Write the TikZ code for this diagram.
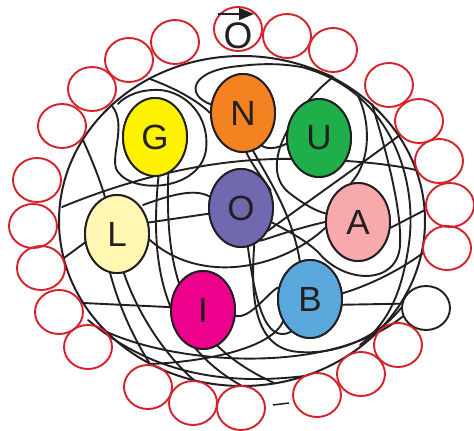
\documentclass[tikz,border=0pt]{standalone}
\usepackage{fontspec}
\setmainfont{Liberation Sans}
\usetikzlibrary{shapes.geometric,arrows.meta}
\definecolor{beadred}{RGB}{214,32,42}
\definecolor{ink}{RGB}{35,31,32}
\definecolor{cG}{RGB}{255,242,0}
\definecolor{cN}{RGB}{245,130,32}
\definecolor{cU}{RGB}{30,175,75}
\definecolor{cO}{RGB}{112,105,176}
\definecolor{cA}{RGB}{247,169,172}
\definecolor{cL}{RGB}{255,247,178}
\definecolor{cI}{RGB}{236,0,140}
\definecolor{cB}{RGB}{90,168,220}
\begin{document}
\begin{tikzpicture}[x=1pt,y=-1pt,
  wire/.style={draw=ink,line width=1.9pt,line cap=round},
  bead/.style={ellipse,draw=beadred,line width=1.9pt,minimum width=48pt,minimum height=44pt,inner sep=0pt},
  blackbead/.style={bead,draw=ink},
  ball/.style={ellipse,draw=ink,line width=1.9pt,minimum width=64pt,minimum height=78pt,inner sep=0pt,font=\fontsize{35}{35}\selectfont,text=ink}]
\useasboundingbox (0,0) rectangle (474,431);
% ring
\node[ellipse,draw=ink,line width=2pt,minimum width=366pt,minimum height=330pt,inner sep=0pt] (ring) at (242,221) {};
% balls (placed first for anchors, redrawn later)
\path
  (155,137) node[ball] (G) {}
  (243,113) node[ball] (N) {}
  (319,138) node[ball] (U) {}
  (241,208) node[ball] (O) {}
  (358,222) node[ball] (A) {}
  (117,234) node[ball] (L) {}
  (203,310) node[ball] (I) {}
  (310,299) node[ball] (B) {};
\node[blackbead] (bk) at (426,308) {};
% wires
\begin{scope}[wire]
\draw (62,207) .. controls (140,175) and (220,157) .. (300,159) .. controls (350,160) and (390,164) .. (416,170);
\draw (150,79) .. controls (180,90) and (200,103) .. (N.180);
\draw (83,140) .. controls (92,160) and (100,180) .. (L.108);
\draw (112,106) .. controls (128,125) and (108,160) .. (118,172) .. controls (135,195) and (200,190) .. (206,150) .. controls (210,115) and (185,92) .. (160,90) .. controls (140,89) and (125,96) .. (118,104);
\draw (N.165) .. controls (185,95) and (190,70) .. (240,66) .. controls (272,62) and (305,64) .. (333,77);
\draw (333,77) .. controls (292,110) and (255,170) .. (292,195) .. controls (305,205) and (318,212) .. (A.165);
\draw (358,96) .. controls (370,120) and (372,160) .. (A.100);
\draw (372,104) .. controls (386,150) and (402,210) .. (400,245) .. controls (398,285) and (345,285) .. (318,252) .. controls (305,240) and (290,232) .. (O.-25);
\draw (305,68) .. controls (390,92) and (420,180) .. (408,250) .. controls (400,300) and (385,325) .. (360,345);
\draw (400,135) .. controls (360,165) and (310,200) .. (O.-40);
\draw (N.-60) .. controls (268,150) and (278,148) .. (U.190);
\draw (N.-75) .. controls (272,185) and (292,215) .. (B.105);
\draw (N.-85) .. controls (255,170) and (268,185) .. (O.30);
\draw (64,258) -- (L.195);
\draw (83,303) -- (I.175);
\draw (107,332) .. controls (180,365) and (330,375) .. (bk.200);
\draw (L.-100) .. controls (120,310) and (135,340) .. (150,364);
\draw (L.-80) .. controls (140,320) and (170,360) .. (195,381);
\draw (G.-85) .. controls (150,260) and (160,340) .. (242,386);
\draw (G.-70) .. controls (165,270) and (180,340) .. (274,383);
\draw (L.-10) .. controls (200,285) and (280,270) .. (A.190);
\draw (143,205) .. controls (170,195) and (195,188) .. (O.160);
\draw (L.20) -- (O.190);
\draw (O.-80) .. controls (255,300) and (265,345) .. (B.-120);
\draw (O.-70) .. controls (250,300) and (255,350) .. (300,352) .. controls (340,355) and (380,335) .. (bk.180);
\draw (O.-60) .. controls (265,240) and (290,230) .. (A.180);
\draw (A.-10) -- (425,210);
\draw (B.10) .. controls (370,285) and (400,270) .. (423,253);
\draw (B.-10) -- (bk.170);
\draw (B.160) .. controls (270,290) and (250,320) .. (I.-10);
\draw (B.-140) .. controls (270,350) and (200,362) .. (150,364);
\draw (88,320) .. controls (150,372) and (220,386) .. (305,376);
\end{scope}
% balls on top
\foreach \n/\c/\t in {G/cG/G,N/cN/N,U/cU/U,O/cO/O,A/cA/A,L/cL/L,I/cI/I,B/cB/B}
  \node[ball,fill=\c] at (\n.center) {\t};
% red beads
\path
  (238,29) node[bead] (r0) {}
  (287,36) node[bead] (r1) {}
  (333,50) node[bead] (r2) {}
  (389,85) node[bead] (r3) {}
  (419,121) node[bead] (r4) {}
  (439,161) node[bead] (r5) {}
  (450,205) node[bead] (r6) {}
  (447,248) node[bead] (r7) {}
  (398,345) node[bead] (r8) {}
  (361,374) node[bead] (r9) {}
  (317,395) node[bead] (r10) {}
  (241,408) node[bead] (r11) {}
  (193,403) node[bead] (r12) {}
  (148,387) node[bead] (r13) {}
  (88,347) node[bead] (r14) {}
  (59,312) node[bead] (r15) {}
  (41,268) node[bead] (r16) {}
  (33,226) node[bead] (r17) {}
  (37,180) node[bead] (r18) {}
  (62,126) node[bead] (r19) {}
  (92,89) node[bead] (r20) {}
  (129,60) node[bead] (r21) {}
  (175,42) node[bead] (r22) {};
% top label
\node[font=\fontsize{37}{37}\selectfont,text=ink,inner sep=0pt] (topO) at (238,36) {O};
\coordinate (arrS) at (218,14);
\coordinate (arrE) at (254,14);
\draw[draw=ink,line width=1.6pt,-{Triangle[length=15pt,width=12pt]}] (arrS) -- (arrE);
% small dash
\coordinate (d1) at (273,405);
\coordinate (d2) at (289,403);
\draw[draw=ink,line width=1.5pt] (d1) -- (d2);
\end{tikzpicture}
\end{document}
